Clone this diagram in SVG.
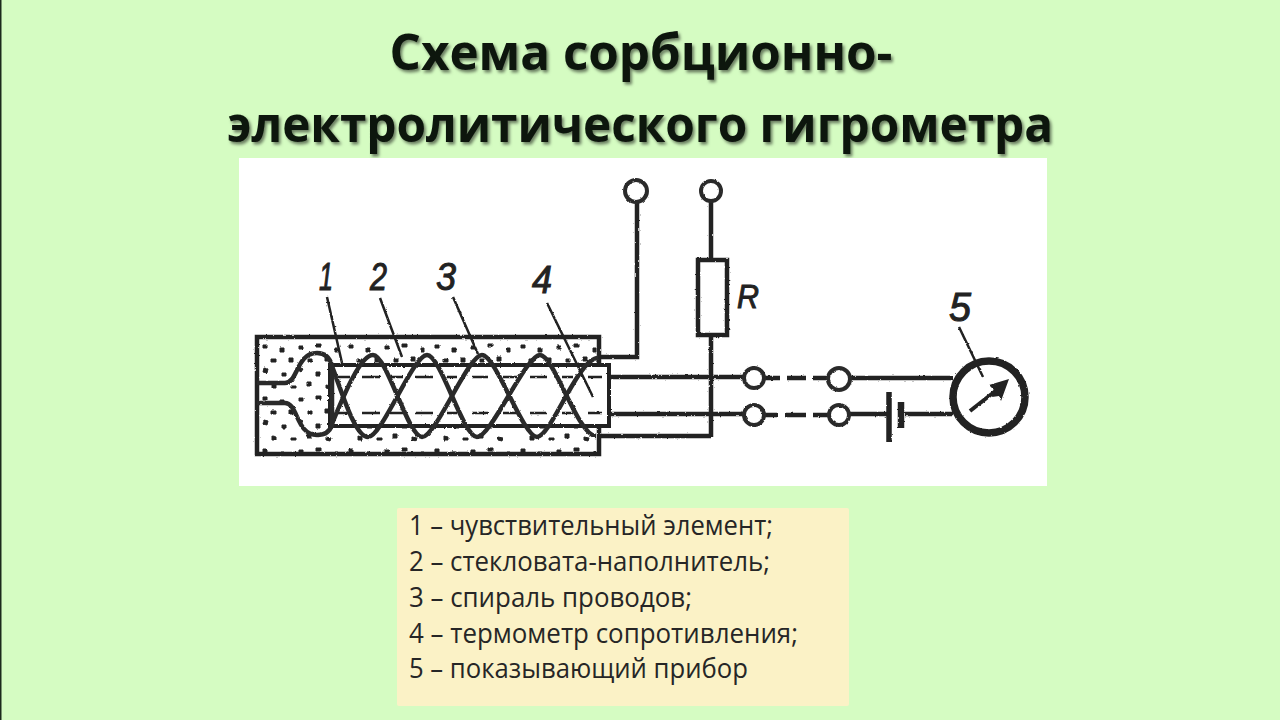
<svg xmlns="http://www.w3.org/2000/svg" width="1280" height="720" viewBox="0 0 1280 720">
<defs>
<filter id="sh" x="-5%" y="-20%" width="110%" height="140%"><feDropShadow dx="2" dy="2.5" stdDeviation="1.5" flood-color="#000" flood-opacity="0.5"/></filter>
<filter id="rough" filterUnits="userSpaceOnUse" x="239" y="158" width="808" height="328"><feTurbulence type="fractalNoise" baseFrequency="0.35" numOctaves="2" seed="4"/><feDisplacementMap in="SourceGraphic" scale="2.2" xChannelSelector="R" yChannelSelector="G"/><feGaussianBlur stdDeviation="0.35"/></filter>
<pattern id="dots" width="86" height="52" patternUnits="userSpaceOnUse">
<path d="M6 4l4 1-1 4-4-1zM24 9h4v3h-4zM41 3l4 2-2 3-3-2zM58 8h4v4h-4zM74 3h4v3h-4zM14 20l4 1v3h-4zM33 22h5v2h-5zM49 18h4v4h-4zM68 21l5 1-1 3-4-1zM5 33h4v3h-4zM22 36h4v4h-4zM41 34h4v3h-4zM58 32h5v3h-5zM77 36h3v4h-3zM13 47h5v3h-5zM31 46h4v4h-4zM50 47h4v3h-4zM67 45h4v4h-4z" fill="#222" stroke="#222" stroke-width="1"/>
</pattern>
</defs>
<style>
.ln{fill:none;stroke:#222;stroke-width:4.5}
.th{fill:none;stroke:#222;stroke-width:2.5}
.sp{fill:none;stroke:#2b2b2b;stroke-width:4.5;stroke-linejoin:round}
.term{fill:#fff;stroke:#2b2b2b;stroke-width:4}
.t{font-family:"Open Sans","Noto Sans",sans-serif;font-weight:700;font-size:50px;fill:#0a140a;text-anchor:middle;filter:url(#sh)}
.lg{font-family:"Open Sans","Noto Sans",sans-serif;font-size:27px;fill:#262626}
.hw{font-family:"Liberation Sans",sans-serif;font-style:italic;font-size:38px;fill:#222;stroke:#222;stroke-width:1}
</style>
<rect width="1280" height="720" fill="#d5fcc2"/>
<rect x="0" y="0" width="1.5" height="720" fill="#1c2a1c"/>
<g id="title">
<text class="t" x="641" y="70" textLength="503" lengthAdjust="spacingAndGlyphs">Схема сорбционно-</text>
<text class="t" x="640" y="142" textLength="826" lengthAdjust="spacingAndGlyphs">электролитического гигрометра</text>
</g>
<rect id="panel" x="239" y="158" width="808" height="328" fill="#fff"/>
<g filter="url(#rough)">
<g id="sensor">
<rect x="257" y="337" width="342" height="117" fill="url(#dots)" stroke="#222" stroke-width="4.5"/>
<rect x="330" y="365" width="279" height="61" fill="#fff" stroke="#222" stroke-width="4"/>
<path class="th" d="M337 377H350M362 377H380M390 377H403M415 377H433M447 377H457M472 377H488M503 377H517M530 377H547M562 377H573M588 377H602M337 413H350M362 413H380M390 413H403M415 413H433M447 413H457M472 413H488M503 413H517M530 413H547M562 413H573M588 413H602"/>
<path class="sp" d="M257 383H285C298 383 296 353 317 353C326 353 330 358 332 366V425C330 431 326 435 317 435C296 435 298 403 285 403H257" stroke-width="5"/>
</g>
<g id="meter">
<circle cx="989" cy="397" r="36" fill="#fff" stroke="#222" stroke-width="7.5"/>
<path d="M970 411L998 389" stroke="#222" stroke-width="4" fill="none"/>
<path d="M1009 379L989 385L994 390L992 397L999 396L1001 401Z" fill="#222"/>
</g>
<g id="connectors">
<path class="sp" d="M331 364C340 385 354 437 368 437C382 437 413 355 427 355C441 355 463 437 477 437C491 437 526 355 540 355C554 355 578 436 596 436"/>
<path class="sp" d="M331 426C340 405 359 355 373 355C387 355 408 437 422 437C436 437 468 355 482 355C496 355 523 437 537 437C551 437 578 358 598 358"/>
<path class="ln" d="M598 357H637V202M711 201V259M711 335V437M598 436H711"/>
<path class="ln" d="M609 377H745M609 414H745M764 378H780M787 378H806M813 378H828M850 378H953M764 415H778M785 415H806M813 415H828M850 414H887M905 414H953"/>
<path class="th" d="M327 297L342 363M380 298L402 357M453 297L478 354M547 303L593 397M959 327L983 377"/>
</g>
<g id="terminals">
<circle class="term" cx="636" cy="191" r="11"/>
<circle class="term" cx="711" cy="191" r="10"/>
<circle class="term" cx="754" cy="378" r="10"/>
<circle class="term" cx="839" cy="379" r="11"/>
<circle class="term" cx="754" cy="415" r="10"/>
<circle class="term" cx="839" cy="415" r="10"/>
</g>
<g id="resistor"><rect x="698" y="260" width="29" height="75" fill="#fff" stroke="#222" stroke-width="4.5"/></g>
<g id="battery"><path d="M889 392V442" stroke="#222" stroke-width="5.5" fill="none"/><path d="M901 402V428" stroke="#222" stroke-width="6.5" fill="none"/></g>
</g>
<g id="labels">
<text class="hw" x="319" y="290" textLength="14" lengthAdjust="spacingAndGlyphs">1</text>
<text class="hw" x="370" y="290" textLength="17" lengthAdjust="spacingAndGlyphs">2</text>
<text class="hw" x="436" y="290" textLength="20" lengthAdjust="spacingAndGlyphs">3</text>
<text class="hw" x="532" y="293" textLength="20" lengthAdjust="spacingAndGlyphs">4</text>
<text class="hw" x="737" y="308" textLength="22" lengthAdjust="spacingAndGlyphs" style="font-size:34px">R</text>
<text class="hw" x="949" y="321" textLength="22" lengthAdjust="spacingAndGlyphs" style="font-size:41px">5</text>
</g>
<g id="legend">
<rect x="397" y="508" width="452" height="198" rx="2" fill="#fbf2c6"/>
<text class="lg" x="409" y="535" textLength="364" lengthAdjust="spacingAndGlyphs">1 – чувствительный элемент;</text>
<text class="lg" x="409" y="571" textLength="361" lengthAdjust="spacingAndGlyphs">2 – стекловата-наполнитель;</text>
<text class="lg" x="409" y="607" textLength="283" lengthAdjust="spacingAndGlyphs">3 – спираль проводов;</text>
<text class="lg" x="409" y="643" textLength="389" lengthAdjust="spacingAndGlyphs">4 – термометр сопротивления;</text>
<text class="lg" x="409" y="678" textLength="339" lengthAdjust="spacingAndGlyphs">5 – показывающий прибор</text>
</g>
</svg>
